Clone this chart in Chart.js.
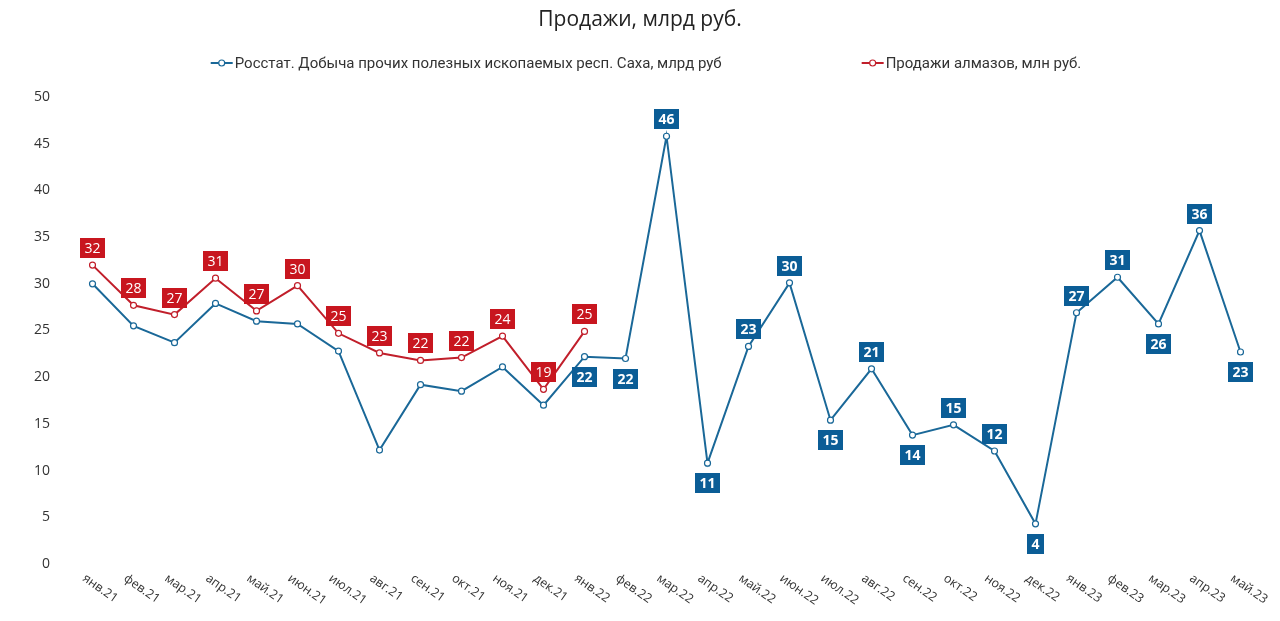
<!DOCTYPE html>
<html lang="ru">
<head>
<meta charset="utf-8">
<title>Продажи, млрд руб.</title>
<script src="https://cdn.jsdelivr.net/npm/chart.js@4.4.1/dist/chart.umd.min.js"></script>
<style>
  html, body { margin: 0; padding: 0; background: #fff; }
  #wrap { width: 1280px; height: 621px; position: relative; }
</style>
</head>
<body>
<div id="wrap"><canvas id="myChart"></canvas></div>
<script>
const months = [
  "янв.21", "фев.21", "мар.21", "апр.21", "май.21", "июн.21", "июл.21", "авг.21",
  "сен.21", "окт.21", "ноя.21", "дек.21", "янв.22", "фев.22", "мар.22", "апр.22",
  "май.22", "июн.22", "июл.22", "авг.22", "сен.22", "окт.22", "ноя.22", "дек.22",
  "янв.23", "фев.23", "мар.23", "апр.23", "май.23"
];

// Росстат, млрд руб
const rosstat = [
  30.0, 25.5, 23.7, 27.9, 26.0, 25.7, 22.8, 12.2, 19.2, 18.5, 21.1, 17.0,
  22.2, 22.0, 45.8, 10.8, 23.3, 30.1, 15.4, 20.9, 13.8, 14.9, 12.1, 4.3,
  26.9, 30.7, 25.7, 35.7, 22.7
];

// Продажи алмазов
const almazy = [
  32.0, 27.7, 26.7, 30.6, 27.1, 29.8, 24.7, 22.6, 21.8, 22.1, 24.4, 18.7, 24.9,
  null, null, null, null, null, null, null, null, null, null, null, null, null, null, null, null
];

const yTicks = [0, 5, 10, 15, 20, 25, 30, 35, 40, 45, 50];

const titleText = "Продажи, млрд руб.";
const seriesNames = [
  "Росстат. Добыча прочих полезных ископаемых респ. Саха, млрд руб",
  "Продажи алмазов, млн руб."
];

// where the value box sits for the blue line (null = no box)
const blueLabelSide = [
  null, null, null, null, null, null, null, null, null, null, null, null,
  "below", "below", "above", "below", "above", "above", "below", "above", "below",
  "above", "above", "below", "above", "above", "below", "above", "below"
];
const redLabelSide = months.map(() => "above");

const BLUE = "#1a6898";
const BLUE_BOX = "#0b5d96";
const RED = "#c11f2b";
const RED_BOX = "#c8161f";

const boxLabels = {
  id: "boxLabels",
  afterDatasetsDraw(chart) {
    const ctx = chart.ctx;
    chart.data.datasets.forEach((ds, di) => {
      const meta = chart.getDatasetMeta(di);
      meta.data.forEach((pt, i) => {
        const v = ds.data[i];
        if (v == null) return;
        const side = ds.labelSide[i];
        if (!side) return;
        const txt = String(Math.round(v));
        ctx.save();
        ctx.font = ds.labelFont;
        const w = ctx.measureText(txt).width + 9;
        const h = 20;
        const cy = side === "above" ? pt.y - 17 : pt.y + 20;
        ctx.fillStyle = ds.boxColor;
        ctx.fillRect(Math.round(pt.x - w / 2), Math.round(cy - h / 2), Math.round(w), h);
        ctx.fillStyle = "#fff";
        ctx.textAlign = "center";
        ctx.textBaseline = "middle";
        ctx.fillText(txt, pt.x, cy + 1);
        ctx.restore();
      });
    });
  },
  afterDraw(chart) {
    const ctx = chart.ctx;
    const area = chart.chartArea;
    ctx.save();
    // title
    ctx.fillStyle = "#222";
    ctx.font = "21px 'Open Sans'";
    ctx.textAlign = "center";
    ctx.textBaseline = "middle";
    ctx.fillText(titleText, 640, 20);

    // legend
    ctx.font = "15px Roboto";
    ctx.textAlign = "left";
    const colors = [BLUE, RED];
    const w0 = ctx.measureText(seriesNames[0]).width;
    const w1 = ctx.measureText(seriesNames[1]).width;
    const gap = 140;
    const total = 24 + w0 + gap + 24 + w1;
    let x = 646 - total / 2;
    const ly = 63;
    [w0, w1].forEach((w, k) => {
      ctx.strokeStyle = colors[k];
      ctx.lineWidth = 2;
      ctx.beginPath();
      ctx.moveTo(x, ly);
      ctx.lineTo(x + 22, ly);
      ctx.stroke();
      ctx.beginPath();
      ctx.arc(x + 11, ly, 3, 0, Math.PI * 2);
      ctx.fillStyle = "#fff";
      ctx.fill();
      ctx.lineWidth = 1.2;
      ctx.stroke();
      ctx.fillStyle = "#333";
      ctx.fillText(seriesNames[k], x + 24, ly + 1);
      x += 24 + w + gap;
    });

    // rotated month labels
    const xs = chart.scales.x;
    ctx.font = "12.5px 'Open Sans'";
    ctx.fillStyle = "#333";
    ctx.textBaseline = "top";
    months.forEach((m, i) => {
      const px = xs.getPixelForTick(i);
      ctx.save();
      ctx.translate(px - 5, area.bottom + 8);
      ctx.rotate(35 * Math.PI / 180);
      ctx.fillText(m, 0, 0);
      ctx.restore();
    });
    ctx.restore();
  }
};

const ctx = document.getElementById("myChart").getContext("2d");
const myChart = new Chart(ctx, {
  type: "line",
  data: {
    labels: months,
    datasets: [
      {
        label: seriesNames[1],
        data: almazy,
        borderColor: RED,
        backgroundColor: "#fff",
        borderWidth: 2,
        pointRadius: 3,
        pointBorderWidth: 1.2,
        pointBackgroundColor: "#fff",
        tension: 0,
        boxColor: RED_BOX,
        labelFont: "14px 'Open Sans'",
        labelSide: redLabelSide,
      },
      {
        label: seriesNames[0],
        data: rosstat,
        borderColor: BLUE,
        backgroundColor: "#fff",
        borderWidth: 2,
        pointRadius: 3,
        pointBorderWidth: 1.2,
        pointBackgroundColor: "#fff",
        tension: 0,
        boxColor: BLUE_BOX,
        labelFont: "bold 14px 'Open Sans'",
        labelSide: blueLabelSide,
      },
    ],
  },
  options: {
    responsive: true,
    maintainAspectRatio: false,
    animation: false,
    layout: { padding: { top: 97, left: 20, right: 19, bottom: 49 } },
    plugins: {
      legend: { display: false },
      title: { display: false },
      tooltip: { enabled: false },
    },
    scales: {
      x: {
        offset: true,
        grid: { display: false },
        border: { display: false },
        ticks: { display: false },
      },
      y: {
        min: 0,
        max: 50,
        afterBuildTicks(scale) {
          scale.ticks = yTicks.map((v) => ({ value: v }));
        },
        grid: { display: false },
        border: { display: false },
        ticks: {
          padding: 14,
          color: "#333",
          font: { family: "'Open Sans'", size: 14 },
        },
      },
    },
  },
  plugins: [boxLabels],
});
</script>
</body>
</html>
